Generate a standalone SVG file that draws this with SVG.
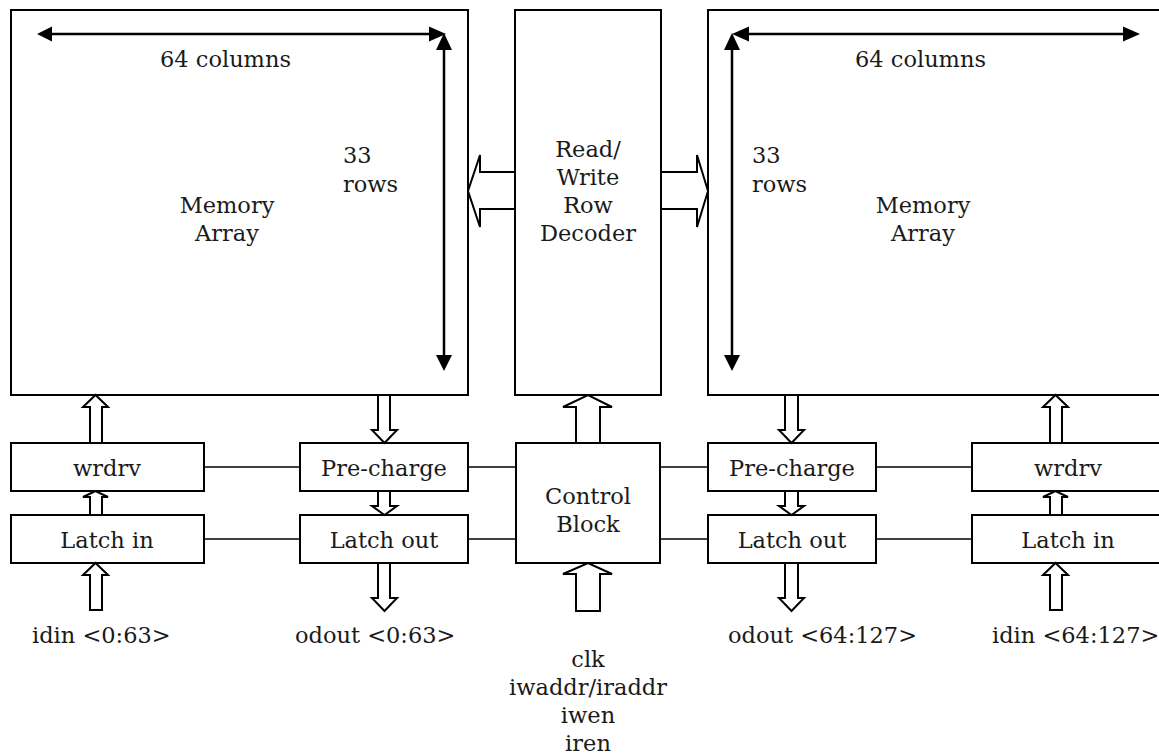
<svg xmlns="http://www.w3.org/2000/svg" width="1159" height="756" viewBox="0 0 1159 756">
  <style>
    .box { fill: #ffffff; stroke: #000000; stroke-width: 2; }
    .lbl { font-family: "DejaVu Serif", "Liberation Serif", serif; font-size: 22.5px; fill: #1a1a1a; }
    .mid { text-anchor: middle; }
    .wire { stroke: #000000; stroke-width: 1.6; fill: none; }
    .dim { stroke: #000000; stroke-width: 2.5; fill: none; }
    .head { fill: #000000; stroke: none; }
    .bus { fill: #ffffff; stroke: #000000; stroke-width: 2; stroke-linejoin: miter; }
  </style>

  <rect width="1159" height="756" fill="#ffffff"/>

  <!-- left memory array with dimension arrows -->
  <g id="mem-left">
    <rect class="box" x="11" y="10" width="457" height="385"/>
    <line class="dim" x1="50" y1="34" x2="430" y2="34"/>
    <polygon class="head" points="37,34 52,26.5 52,41.5"/>
    <polygon class="head" points="446,34 429,26.5 429,41.5"/>
    <line class="dim" x1="444" y1="48" x2="444" y2="357"/>
    <polygon class="head" points="444,33 436,50 452,50"/>
    <polygon class="head" points="444,371 436,355 452,355"/>
    <text class="lbl" x="160" y="67">64 columns</text>
    <text class="lbl" x="343" y="163">33</text>
    <text class="lbl" x="343" y="192">rows</text>
    <text class="lbl mid" x="227" y="213">Memory</text>
    <text class="lbl mid" x="227" y="241">Array</text>
  </g>

  <!-- row decoder -->
  <g id="decoder">
    <rect class="box" x="515" y="10" width="146" height="385"/>
    <text class="lbl mid" x="588" y="157">Read/</text>
    <text class="lbl mid" x="588" y="185">Write</text>
    <text class="lbl mid" x="588" y="213">Row</text>
    <text class="lbl mid" x="588" y="241">Decoder</text>
  </g>

  <!-- right memory array with dimension arrows -->
  <g id="mem-right">
    <rect class="box" x="708" y="10" width="458" height="385"/>
    <line class="dim" x1="746" y1="34" x2="1126" y2="34"/>
    <polygon class="head" points="732,34 749,26.5 749,41.5"/>
    <polygon class="head" points="1140,34 1123,26.5 1123,41.5"/>
    <line class="dim" x1="732" y1="48" x2="732" y2="357"/>
    <polygon class="head" points="732,33 724,50 740,50"/>
    <polygon class="head" points="732,371 724,355 740,355"/>
    <text class="lbl" x="855" y="67">64 columns</text>
    <text class="lbl" x="752" y="163">33</text>
    <text class="lbl" x="752" y="192">rows</text>
    <text class="lbl mid" x="923" y="213">Memory</text>
    <text class="lbl mid" x="923" y="241">Array</text>
  </g>

  <!-- left column periphery -->
  <g id="wrdrv-left">
    <rect class="box" x="11" y="443" width="193" height="48"/>
    <text class="lbl mid" x="107" y="476">wrdrv</text>
  </g>
  <g id="latchin-left">
    <rect class="box" x="11" y="515" width="193" height="48"/>
    <text class="lbl mid" x="107" y="548">Latch in</text>
  </g>
  <g id="precharge-left">
    <rect class="box" x="300" y="443" width="168" height="48"/>
    <text class="lbl mid" x="384" y="476">Pre-charge</text>
  </g>
  <g id="latchout-left">
    <rect class="box" x="300" y="515" width="168" height="48"/>
    <text class="lbl mid" x="384" y="548">Latch out</text>
  </g>

  <!-- control block -->
  <g id="control">
    <rect class="box" x="516" y="443" width="144" height="120"/>
    <text class="lbl mid" x="588" y="504">Control</text>
    <text class="lbl mid" x="588" y="532">Block</text>
  </g>

  <!-- right column periphery -->
  <g id="precharge-right">
    <rect class="box" x="708" y="443" width="168" height="48"/>
    <text class="lbl mid" x="792" y="476">Pre-charge</text>
  </g>
  <g id="latchout-right">
    <rect class="box" x="708" y="515" width="168" height="48"/>
    <text class="lbl mid" x="792" y="548">Latch out</text>
  </g>
  <g id="wrdrv-right">
    <rect class="box" x="972" y="443" width="193" height="48"/>
    <text class="lbl mid" x="1068" y="476">wrdrv</text>
  </g>
  <g id="latchin-right">
    <rect class="box" x="972" y="515" width="193" height="48"/>
    <text class="lbl mid" x="1068" y="548">Latch in</text>
  </g>

  <!-- port labels -->
  <g id="ports">
    <text class="lbl" x="32" y="643">idin &lt;0:63&gt;</text>
    <text class="lbl" x="295" y="643">odout &lt;0:63&gt;</text>
    <text class="lbl" x="728" y="643">odout &lt;64:127&gt;</text>
    <text class="lbl" x="992" y="643">idin &lt;64:127&gt;</text>
    <text class="lbl mid" x="588" y="667">clk</text>
    <text class="lbl mid" x="588" y="695">iwaddr/iraddr</text>
    <text class="lbl mid" x="588" y="723">iwen</text>
    <text class="lbl mid" x="588" y="751">iren</text>
  </g>

  <!-- connectors: control wires and bus arrows -->
  <g id="connectors">
    <line class="wire" x1="204" y1="467" x2="300" y2="467"/>
    <line class="wire" x1="468" y1="467" x2="516" y2="467"/>
    <line class="wire" x1="660" y1="467" x2="708" y2="467"/>
    <line class="wire" x1="876" y1="467" x2="972" y2="467"/>
    <line class="wire" x1="204" y1="539" x2="300" y2="539"/>
    <line class="wire" x1="468" y1="539" x2="516" y2="539"/>
    <line class="wire" x1="660" y1="539" x2="708" y2="539"/>
    <line class="wire" x1="876" y1="539" x2="972" y2="539"/>

    <!-- decoder to arrays -->
    <polygon class="bus" points="515,172 480,172 480,155 468,191 480,227 480,209 515,209"/>
    <polygon class="bus" points="661,172 697,172 697,155 708,191 697,227 697,209 661,209"/>

    <!-- left write path (up) -->
    <polygon class="bus" points="90,443 90,407 83,407 95.5,395 108,407 102,407 102,443"/>
    <polygon class="bus" points="90,515 90,497 83,497 95.5,491 108,497 102,497 102,515"/>
    <polygon class="bus" points="90,610 90,575 83,575 95.5,563 108,575 102,575 102,610"/>

    <!-- left read path (down) -->
    <polygon class="bus" points="378,395 378,430 372,430 384.5,443 397,430 390,430 390,395"/>
    <polygon class="bus" points="378,491 378,506 372,506 384.5,515 397,506 390,506 390,491"/>
    <polygon class="bus" points="378,563 378,598 372,598 384.5,611 397,598 390,598 390,563"/>

    <!-- control to decoder and inputs to control -->
    <polygon class="bus" points="576,443 576,407 563,407 588,395 612,407 600,407 600,443"/>
    <polygon class="bus" points="576,611 576,574 563,574 588,563 612,574 600,574 600,611"/>

    <!-- right read path (down) -->
    <polygon class="bus" points="785,395 785,430 779,430 791.5,443 804,430 798,430 798,395"/>
    <polygon class="bus" points="785,491 785,506 779,506 791.5,515 804,506 798,506 798,491"/>
    <polygon class="bus" points="785,563 785,598 779,598 791.5,611 804,598 798,598 798,563"/>

    <!-- right write path (up) -->
    <polygon class="bus" points="1050,443 1050,407 1043,407 1055.5,395 1068,407 1062,407 1062,443"/>
    <polygon class="bus" points="1050,515 1050,497 1043,497 1055.5,491 1068,497 1062,497 1062,515"/>
    <polygon class="bus" points="1050,610 1050,575 1043,575 1055.5,563 1068,575 1062,575 1062,610"/>
  </g>
</svg>
